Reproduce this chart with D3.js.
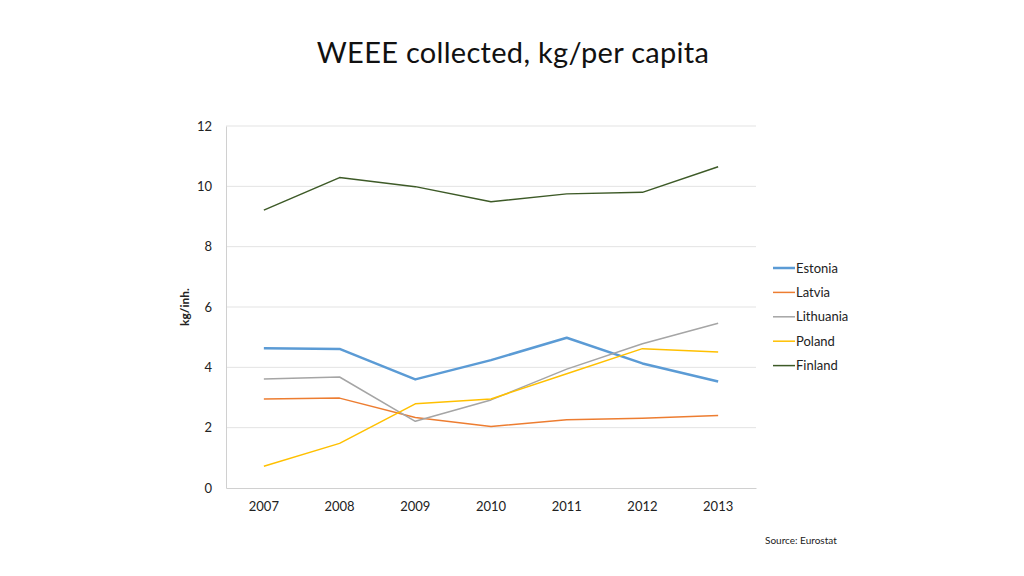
<!DOCTYPE html>
<html>
<head>
<meta charset="utf-8">
<script src="https://cdn.jsdelivr.net/npm/d3@7.9.0/dist/d3.min.js"></script>
<style>
  body { margin: 0; background: #fff; }
  svg { display: block; font-family: Lato, "Open Sans", sans-serif; }
</style>
</head>
<body>
<svg id="chart" width="1024" height="576"></svg>
<script>
// Data
const years = ["2007", "2008", "2009", "2010", "2011", "2012", "2013"];
const countries = ["Estonia", "Latvia", "Lithuania", "Poland", "Finland"];
const estonia = [4.63, 4.61, 3.60, 4.24, 4.98, 4.13, 3.53];
const latvia = [2.95, 2.98, 2.34, 2.04, 2.26, 2.31, 2.40];
const lithuania = [3.61, 3.68, 2.21, 2.92, 3.94, 4.78, 5.46];
const poland = [0.72, 1.48, 2.79, 2.95, 3.79, 4.62, 4.51];
const finland = [9.21, 10.29, 9.99, 9.49, 9.75, 9.80, 10.65];
const yTicks = [0, 2, 4, 6, 8, 10, 12];

const seriesValues = [estonia, latvia, lithuania, poland, finland];
const colors = ["#5B9BD5", "#ED7D31", "#A5A5A5", "#FFC000", "#3D5A27"];
const widths = [2.5, 1.5, 1.5, 1.5, 1.5];

const svg = d3.select("#chart");

// Scales
const x = d3.scaleBand().domain(years).range([226, 756]);
const y = d3.scaleLinear().domain([0, 12]).range([488, 126]);

// Title
svg.append("text")
  .attr("x", 513).attr("y", 63)
  .attr("text-anchor", "middle")
  .attr("font-size", 29)
  .attr("fill", "#111")
  .style("letter-spacing", "0.3px")
  .text("WEEE collected, kg/per capita");

// Gridlines
svg.append("g")
  .selectAll("line")
  .data(yTicks.filter(d => d > 0))
  .join("line")
  .attr("x1", 226).attr("x2", 756)
  .attr("y1", d => y(d)).attr("y2", d => y(d))
  .attr("stroke", "#e3e3e3")
  .attr("stroke-width", 1);

// Y axis
const yAxis = svg.append("g")
  .attr("transform", "translate(226,0)")
  .call(d3.axisLeft(y).tickValues(yTicks).tickSize(0).tickPadding(14));
yAxis.select(".domain").attr("stroke", "#d0d0d0");
yAxis.selectAll("text").attr("font-size", 13).attr("fill", "#222").attr("font-family", "Lato, sans-serif");

// X axis
const xAxis = svg.append("g")
  .attr("transform", "translate(0,488)")
  .call(d3.axisBottom(x).tickSize(0).tickPadding(14));
xAxis.select(".domain").attr("stroke", "#d0d0d0");
xAxis.selectAll("text").attr("font-size", 13).attr("fill", "#222").attr("font-family", "Lato, sans-serif");

// Y axis title
svg.append("text")
  .attr("transform", "translate(189,307) rotate(-90)")
  .attr("text-anchor", "middle")
  .attr("font-size", 12)
  .attr("font-weight", "bold")
  .attr("fill", "#222")
  .text("kg/inh.");

// Lines
const line = d3.line()
  .x((d, i) => x(years[i]) + x.bandwidth() / 2)
  .y(d => y(d));

svg.append("g")
  .selectAll("path")
  .data(seriesValues)
  .join("path")
  .attr("d", d => line(d))
  .attr("fill", "none")
  .attr("stroke", (d, i) => colors[i])
  .attr("stroke-width", (d, i) => widths[i])
  .attr("stroke-linejoin", "round");

// Legend
const legend = svg.append("g").attr("transform", "translate(773,268)");
const items = legend.selectAll("g")
  .data(countries)
  .join("g")
  .attr("transform", (d, i) => `translate(0,${i * 24.4})`);
items.append("line")
  .attr("x1", 0).attr("x2", 22)
  .attr("stroke", (d, i) => colors[i])
  .attr("stroke-width", (d, i) => widths[i]);
items.append("text")
  .attr("x", 23).attr("y", 4.5)
  .attr("font-size", 13)
  .attr("fill", "#222")
  .text(d => d);

// Source
svg.append("text")
  .attr("x", 765).attr("y", 544)
  .attr("font-size", 10)
  .attr("fill", "#222")
  .text("Source: Eurostat");
</script>
</body>
</html>
